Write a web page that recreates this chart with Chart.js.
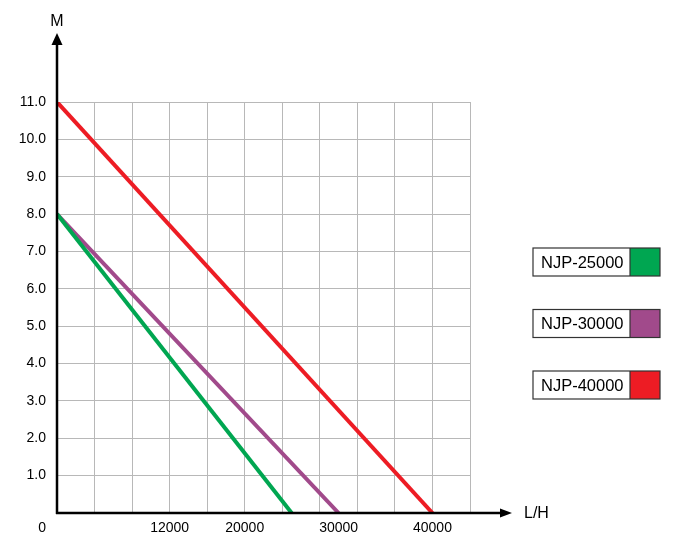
<!DOCTYPE html>
<html>
<head>
<meta charset="utf-8">
<script src="https://cdn.jsdelivr.net/npm/chart.js@4.4.1/dist/chart.umd.min.js"></script>
<style>
  html, body { margin: 0; padding: 0; background: #fff; }
  canvas { display: block; }
</style>
</head>
<body>
<canvas id="chart" width="680" height="534"></canvas>
<script>
// ===== DATA =====
const models = ["NJP-25000", "NJP-30000", "NJP-40000"];
const colors = ["#00a651", "#a14a8b", "#ed1c24"];

const flow25 = [0, 25000];
const head25 = [8, 0];
const flow30 = [0, 30000];
const head30 = [8, 0];
const flow40 = [0, 40000];
const head40 = [11, 0];

const xTickLabels = [12000, 20000, 30000, 40000];
const xMax = 44000, xStep = 4000;
const yMax = 11, yStep = 1;

const FONT = "'Liberation Sans', Arial, sans-serif";

function pts(xs, ys){
  return xs.map((x, i) => ({x: x, y: ys[i]}));
}

// ===== AXES, LABELS, LEGEND =====
const decor = {
  id: "decor",
  afterDraw(chart){
    const ctx = chart.ctx;
    const a = chart.chartArea;
    const xs = chart.scales.x;
    ctx.save();

    // axes with arrows
    ctx.strokeStyle = "#000";
    ctx.fillStyle = "#000";
    ctx.lineWidth = 2.5;
    ctx.beginPath();
    ctx.moveTo(a.left, a.bottom + 1);
    ctx.lineTo(a.left, a.top - 58);
    ctx.moveTo(a.left - 1, a.bottom);
    ctx.lineTo(a.right + 31, a.bottom);
    ctx.stroke();

    ctx.beginPath();
    ctx.moveTo(a.left, a.top - 69);
    ctx.lineTo(a.left - 5.5, a.top - 57);
    ctx.lineTo(a.left + 5.5, a.top - 57);
    ctx.closePath();
    ctx.fill();

    ctx.beginPath();
    ctx.moveTo(a.right + 42, a.bottom);
    ctx.lineTo(a.right + 30, a.bottom - 4.5);
    ctx.lineTo(a.right + 30, a.bottom + 4.5);
    ctx.closePath();
    ctx.fill();

    // axis titles
    ctx.font = "16px " + FONT;
    ctx.textBaseline = "middle";
    ctx.textAlign = "center";
    ctx.fillText("M", a.left, a.top - 80);
    ctx.textAlign = "left";
    ctx.fillText("L/H", a.right + 54, a.bottom + 1);

    // x tick labels + origin
    ctx.font = "14px " + FONT;
    ctx.textAlign = "center";
    xTickLabels.forEach(v => {
      ctx.fillText(String(v), xs.getPixelForValue(v), a.bottom + 15);
    });
    ctx.textAlign = "right";
    ctx.fillText("0", a.left - 11, a.bottom + 15);

    // legend boxes
    const lx = a.right + 63, bw = 127, bh = 28, sw = 30;
    chart.data.datasets.forEach((ds, i) => {
      const ty = a.top + 146 + i * 61.5;
      ctx.fillStyle = "#fff";
      ctx.fillRect(lx, ty, bw, bh);
      ctx.fillStyle = ds.borderColor;
      ctx.fillRect(lx + bw - sw, ty, sw, bh);
      ctx.strokeStyle = "#333";
      ctx.lineWidth = 1.2;
      ctx.strokeRect(lx, ty, bw, bh);
      ctx.beginPath();
      ctx.moveTo(lx + bw - sw, ty);
      ctx.lineTo(lx + bw - sw, ty + bh);
      ctx.stroke();
      ctx.fillStyle = "#000";
      ctx.font = "16.5px " + FONT;
      ctx.textAlign = "left";
      ctx.fillText(ds.label, lx + 8, ty + bh / 2 + 1);
    });

    ctx.restore();
  }
};

// ===== CHART =====
new Chart(document.getElementById("chart"), {
  type: "line",
  data: {
    datasets: [
      {label: models[0], data: pts(flow25, head25), borderColor: colors[0]},
      {label: models[1], data: pts(flow30, head30), borderColor: colors[1]},
      {label: models[2], data: pts(flow40, head40), borderColor: colors[2]}
    ].map(d => Object.assign(d, {borderWidth: 4, pointRadius: 0, fill: false, tension: 0}))
  },
  options: {
    responsive: false,
    animation: false,
    layout: {padding: {top: 102, right: 210, bottom: 21, left: 0}},
    plugins: {legend: {display: false}, tooltip: {enabled: false}},
    scales: {
      x: {
        type: "linear",
        min: 0, max: xMax,
        afterFit: s => { s.height = 0; },
        ticks: {display: false, stepSize: xStep},
        grid: {color: "#b8b8b8", lineWidth: 1, drawTicks: false},
        border: {display: false}
      },
      y: {
        min: 0, max: yMax,
        afterFit: s => { s.width = 57; },
        ticks: {
          stepSize: yStep,
          padding: 11,
          color: "#000",
          font: {family: FONT, size: 14},
          callback: v => v === 0 ? "" : v.toFixed(1)
        },
        grid: {color: "#b8b8b8", lineWidth: 1, drawTicks: false},
        border: {display: false}
      }
    }
  },
  plugins: [decor]
});
</script>
</body>
</html>
